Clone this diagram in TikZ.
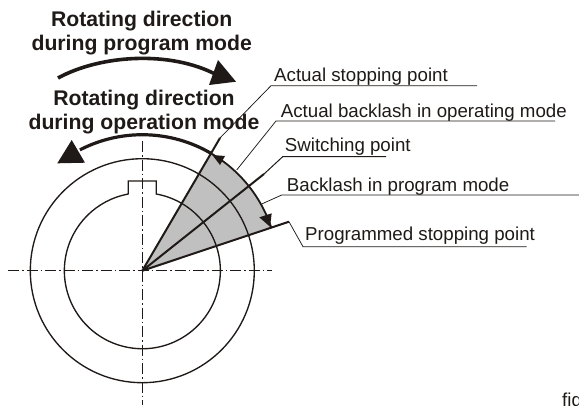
\documentclass[tikz,border=0pt]{standalone}
\usepackage{fontspec}
\setmainfont{Liberation Sans}
\usetikzlibrary{calc}
\definecolor{ink}{HTML}{1F1A17}
\definecolor{sector}{HTML}{C0C0C0}
\tikzset{
  x=1pt,y=-1pt,
  ink line/.style={draw=ink,line width=1.35pt},
  thick ray/.style={draw=ink,line width=2pt},
  leader/.style={draw=ink,line width=0.75pt},
  band arc/.style={draw=ink,line width=1.8pt},
  heavy arc/.style={draw=ink,line width=3.2pt},
  centre line/.style={draw=ink,line width=0.9pt,dash pattern=on 11pt off 3pt on 1.5pt off 3pt},
  title text/.style={font=\fontsize{21.2}{24}\selectfont\bfseries,text=ink,anchor=base,inner sep=0pt},
  label text/.style={font=\fontsize{18.7}{21}\selectfont,text=ink,anchor=base west,inner sep=0pt},
  headfill/.style={fill=ink,draw=none}
}
\begin{document}
\begin{tikzpicture}
\useasboundingbox (0,0) rectangle (579,405);
\clip (0,0) rectangle (579,405);
\coordinate (c) at (142.3,270.7);
% grey sector
\fill[sector] (c) -- ($(c)+(-59.6:136)$) arc[start angle=-59.6,end angle=-18.5,radius=136] -- cycle;
% centre lines
\coordinate (hl) at (8,270.7); \coordinate (hr) at (272,270.7);
\coordinate (vt) at (142.3,141); \coordinate (vb) at (142.3,405);
\draw[centre line] (hl) -- (hr);
\draw[centre line] (vt) -- (vb);
% circles and key
\draw[ink line] (c) circle[radius=112];
\draw[ink line] (128.3,194.0) -- (128.3,181) -- (156.3,181) -- (156.3,194.0)
   arc[start angle=-79.7,end angle=259.7,radius=78];
% rays
\coordinate (stopEnd) at (220,138);
\coordinate (switchEnd) at (264,174);
\coordinate (progEnd) at (289,221.7);
\draw[thick ray] (c) -- (stopEnd);
\draw[thick ray] (c) -- (switchEnd);
\draw[thick ray] (c) -- (progEnd);
% backlash arc and its heads
\draw[band arc] ($(c)+(-59.6:136)$) arc[start angle=-59.6,end angle=-18.5,radius=136];
\fill[headfill] (212.3,155) -- (225,156) -- (220,165) -- cycle;
\fill[headfill] (270,226.7) -- (259.3,217.3) -- (271.7,213.3) -- cycle;
% operation arrow
\draw[heavy arc] ($(c)+(-59.6:136)$) arc[start angle=-59.6,end angle=-117.3,radius=136];
\fill[headfill] (71.7,140) -- (57.3,163.3) -- (85,162.7) -- cycle;
% program arrow
\draw[heavy arc,line width=3.6pt] (58,78) .. controls (100,55) and (170,50) .. (217,75);
\fill[headfill] (218,60) -- (236,81.7) -- (209,85) -- cycle;
% titles
\node[title text] (t1a) at (141.7,26.7) {Rotating direction};
\node[title text] (t1b) at (141.7,50.7) {during program mode};
\node[title text] (t2a) at (144,105) {Rotating direction};
\node[title text] (t2b) at (144,129) {during operation mode};
% labels
\node[label text] (l1) at (274,81) {Actual stopping point};
\node[label text] (l2) at (280.7,117.7) {Actual backlash in operating mode};
\node[label text] (l3) at (284.7,151.7) {Switching point};
\node[label text] (l4) at (286.7,191) {Backlash in program mode};
\node[label text] (l5) at (305,240) {Programmed stopping point};
\node[label text] (fig) at (562,406) {fig};
% leaders
\coordinate (a1) at (271,85.7); \coordinate (b1) at (477,85.7);
\draw[leader] (stopEnd) -- (a1) -- (b1);
\coordinate (p2) at (236.7,170); \coordinate (a2) at (276,121); \coordinate (b2) at (555,121);
\draw[leader] (p2) -- (a2) -- (b2);
\coordinate (a3) at (282.7,156.7); \coordinate (b3) at (386,156.7);
\draw[leader,line width=1pt] (switchEnd) -- (a3) -- (b3);
\coordinate (p4) at (261.7,204); \coordinate (a4) at (281.7,195); \coordinate (b4) at (579,195);
\draw[leader] (p4) -- (a4) -- (b4);
\coordinate (a5) at (303,246.7); \coordinate (b5) at (526.7,246.7);
\draw[leader] (progEnd) -- (a5) -- (b5);
\end{tikzpicture}
\end{document}
